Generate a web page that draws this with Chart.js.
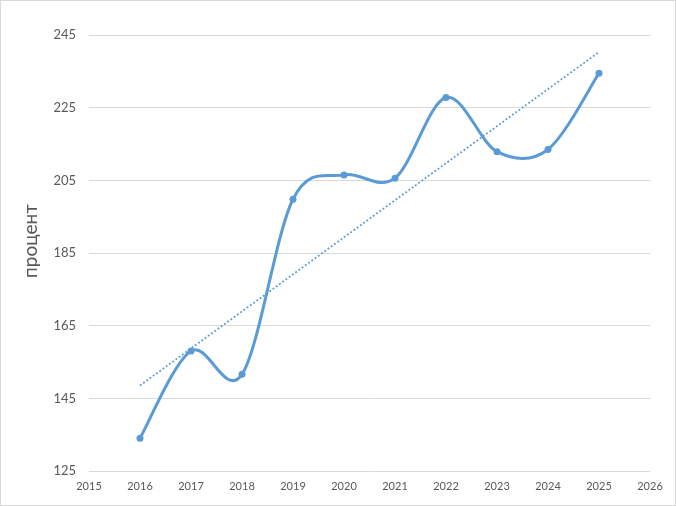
<!DOCTYPE html>
<html>
<head>
<meta charset="utf-8">
<script src="https://cdn.jsdelivr.net/npm/chart.js@4/dist/chart.umd.min.js"></script>
<style>
html,body{margin:0;padding:0;background:#fff;}
#wrap{position:relative;width:676px;height:506px;box-sizing:border-box;border:1px solid #d9d9d9;}
canvas{display:block;}
</style>
</head>
<body>
<div id="wrap"><canvas id="c" width="674" height="504"></canvas></div>
<script>
const years = [2016, 2017, 2018, 2019, 2020, 2021, 2022, 2023, 2024, 2025];
const values = [134.0, 158.0, 151.6, 199.8, 206.5, 205.6, 227.8, 212.9, 213.5, 234.5];
const xTickRange = [2015, 2026];
const yTickRange = [125, 245];
const yStep = 20;
const yTitle = 'процент';

// Linear trendline (least squares) from the data
const n = years.length;
const mx = years.reduce((a, b) => a + b, 0) / n;
const my = values.reduce((a, b) => a + b, 0) / n;
let sxy = 0, sxx = 0;
for (let i = 0; i < n; i++) { sxy += (years[i] - mx) * (values[i] - my); sxx += (years[i] - mx) ** 2; }
const slope = sxy / sxx;
const trendPts = [years[0], years[n - 1]].map(x => ({ x: x, y: my + slope * (x - mx) }));

const blue = '#5B9BD5';
const textCol = '#595959';
const fontFam = 'Lato, "Liberation Sans", sans-serif';

const titlePlugin = {
  id: 'ytitle',
  afterDraw(chart) {
    const ctx = chart.ctx;
    ctx.save();
    ctx.translate(30, 240);
    ctx.rotate(-Math.PI / 2);
    ctx.fillStyle = textCol;
    ctx.font = '19px ' + fontFam;
    ctx.textAlign = 'center';
    ctx.textBaseline = 'middle';
    ctx.fillText(yTitle, 0, 0);
    ctx.restore();
  }
};

// Uniform Catmull-Rom style smoothing (like office-chart smoothed lines)
const smoothPlugin = {
  id: 'smooth',
  beforeDatasetDraw(chart, args) {
    if (args.index !== 0) return;
    const meta = args.meta;
    const line = meta.dataset;
    line.updateControlPoints(chart.chartArea, 'x');
    const pts = meta.data;
    for (let i = 0; i < pts.length; i++) {
      const p = pts[i];
      const prev = pts[Math.max(0, i - 1)];
      const next = pts[Math.min(pts.length - 1, i + 1)];
      const tx = (next.x - prev.x) / 6;
      const ty = (next.y - prev.y) / 6;
      p.cp1x = p.x - tx; p.cp1y = p.y - ty;
      p.cp2x = p.x + tx; p.cp2y = p.y + ty;
    }
  }
};

new Chart(document.getElementById('c'), {
  type: 'line',
  data: {
    datasets: [
      {
        data: years.map((x, i) => ({ x: x, y: values[i] })),
        borderColor: blue,
        backgroundColor: blue,
        borderWidth: 3,
        pointRadius: 3.5,
        pointBorderWidth: 0,
        pointBackgroundColor: blue,
        tension: 0.4,
        fill: false,
        order: 1
      },
      {
        data: trendPts,
        borderColor: blue,
        borderWidth: 1.8,
        borderDash: [1.8, 2.2],
        pointRadius: 0,
        tension: 0,
        fill: false,
        order: 2
      }
    ]
  },
  options: {
    responsive: false,
    animation: false,
    events: [],
    layout: { padding: { top: 34, right: 25, left: 0, bottom: 0 } },
    plugins: { legend: { display: false }, tooltip: { enabled: false } },
    scales: {
      x: {
        type: 'linear',
        min: xTickRange[0],
        max: xTickRange[1],
        grid: { display: false, drawTicks: false },
        border: { display: false },
        ticks: {
          stepSize: 1,
          padding: 9,
          color: textCol,
          font: { family: fontFam, size: 11 },
          maxRotation: 0,
          autoSkip: false,
          callback: v => String(v)
        },
        afterFit: s => { s.height = 34; }
      },
      y: {
        min: yTickRange[0],
        max: yTickRange[1],
        grid: { color: '#d9d9d9', lineWidth: 1, drawTicks: false },
        border: { display: false },
        ticks: {
          stepSize: yStep,
          padding: 13,
          color: textCol,
          font: { family: fontFam, size: 13 },
          callback: v => String(v)
        },
        afterFit: s => { s.width = 88; }
      }
    }
  },
  plugins: [titlePlugin, smoothPlugin]
});
</script>
</body>
</html>
